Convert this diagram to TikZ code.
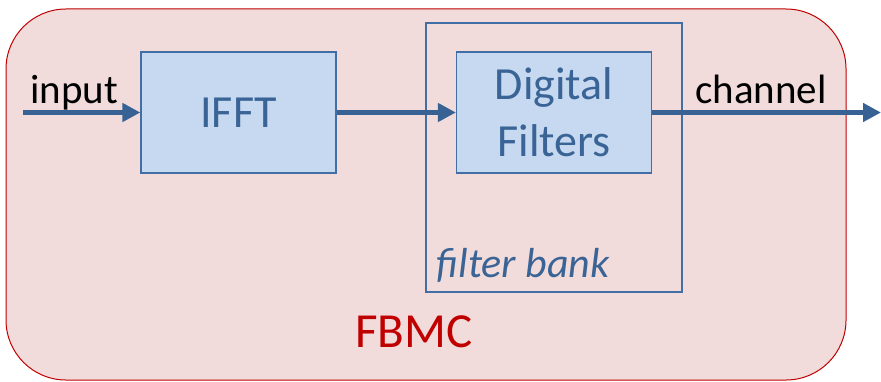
\documentclass[tikz,border=0pt]{standalone}
\usepackage{fontspec}
\setmainfont{Carlito}
\usetikzlibrary{arrows.meta}
\definecolor{cOuter}{RGB}{242,220,219}
\definecolor{cRed}{RGB}{192,0,0}
\definecolor{cBox}{RGB}{198,217,240}
\definecolor{cEdge}{RGB}{65,110,165}
\definecolor{cText}{RGB}{58,100,150}
\definecolor{cArrow}{RGB}{56,98,148}

\begin{document}
\begin{tikzpicture}[x=0.5pt,y=0.5pt,
  block/.style={draw=cEdge,line width=0.6pt,fill=cBox,text=cText,inner sep=0pt,
    minimum width=97.5pt,minimum height=60.5pt,align=center,
    font=\fontsize{23}{28.5}\selectfont},
  sig/.style={draw=cArrow,line width=2.5pt,-{Triangle[length=9pt,width=9pt]}},
  lbl/.style={anchor=base,font=\fontsize{20.5}{24}\selectfont}]
\useasboundingbox (0,0) rectangle (881,381);
% outer frame
\draw[cRed,fill=cOuter,line width=0.5pt,rounded corners=30pt] (6,1) rectangle (846,372);
\node[text=cRed,font=\fontsize{24.5}{29}\selectfont] (fbmc) at (414,49) {FBMC};
% filter bank frame
\node[draw=cEdge,line width=0.6pt,inner sep=0pt,minimum width=128pt,minimum height=134.5pt] (bank) at (554,223.5) {};
\node[text=cText,font=\fontsize{21}{25}\selectfont\itshape] (banklbl) at (523,116) {filter bank};
% blocks
\node[block] (ifft) at (238.5,268.5) {IFFT};
\node[block] (filt) at (554,268.5) {Digital\\Filters};
% signals
\coordinate (in) at (23,268.5);
\coordinate (out) at (881,268.5);
\draw[sig] (in) -- (ifft.west);
\draw[sig] (ifft.east) -- (filt.west);
\draw[sig] (filt.east) -- (out);
\node[lbl] (inlbl) at (74,278) {input};
\node[lbl] (chlbl) at (761,278) {channel};
\end{tikzpicture}
\end{document}
